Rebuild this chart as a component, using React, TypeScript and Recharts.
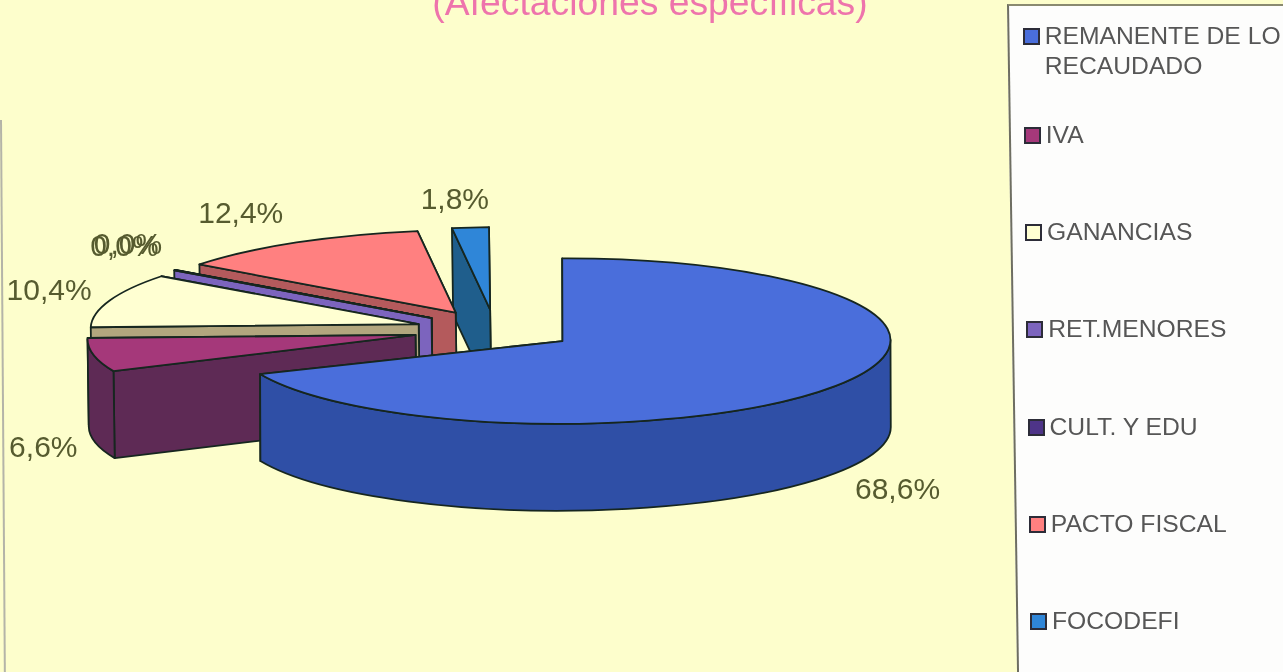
import React from "react";
import { PieChart, Pie, Legend } from "recharts";

const categories = ["REMANENTE DE LO RECAUDADO", "IVA", "GANANCIAS", "RET.MENORES", "CULT. Y EDU", "PACTO FISCAL", "FOCODEFI"];
const shares = [68.6, 6.6, 10.4, 0.04, 0.04, 12.4, 1.8];
const topColors = ["#4A6EDB", "#A5387A", "#FFFFD2", "#7C64BE", "#4E3488", "#FF8080", "#2F86D8"];
const sideColors = ["#2F4FA6", "#5E2A55", "#B2A67E", "#7C64BE", "#33255F", "#B45A5C", "#1F5E8C"];

// Draw order runs from the back of the pie to the front, so the table is reversed and swept the other way.
const pieData = categories
  .map((name, i) => ({ name, value: shares[i], top: topColors[i], side: sideColors[i] }))
  .reverse();

const W = 1283;
const H = 672;
const CX = 495;
const CY = 330;
const SQUASH = 0.252;
const DEPTH = 87;
const EXPLODE = 81;
const TILT = -0.8;
const LARGE_SLICE_TILT = -0.2;
const OUTLINE = "#16261f";
const LABEL_OFFSET: Record<string, [number, number]> = {
  "REMANENTE DE LO RECAUDADO": [62, 112],
  IVA: [-50, 108],
  GANANCIAS: [-61, 5],
  "RET.MENORES": [-51, -10],
  "CULT. Y EDU": [-48, -11],
  "PACTO FISCAL": [-57, -17],
  FOCODEFI: [-17, -18],
};

const rad = (a: number) => (a * Math.PI) / 180;

function geometry(p: any) {
  const rx = p.outerRadius;
  const ry = rx * SQUASH;
  const mid = (p.startAngle + p.endAngle) / 2;
  const ax = p.cx + EXPLODE * Math.cos(rad(mid));
  const ay = p.cy - EXPLODE * SQUASH * Math.sin(rad(mid));
  const at = (a: number, d = 0): [number, number] => [ax + rx * Math.cos(rad(a)), ay - ry * Math.sin(rad(a)) + d];
  return { rx, ry, mid, ax, ay, at };
}

function Slice3D(props: any) {
  const { startAngle: s, endAngle: e, payload } = props;
  const top = payload?.top ?? props.top;
  const side = payload?.side ?? props.side;
  const { rx, ry, ax, ay, at } = geometry(props);
  const cutPath = (a: number) => {
    const [x, y] = at(a);
    return `M${ax},${ay} L${x},${y} L${x},${y + DEPTH} L${ax},${ay + DEPTH} Z`;
  };
  const cuts = [s, e].sort((a, b) => Math.sin(rad(b)) - Math.sin(rad(a)));
  const walls: string[] = [];
  [[180, 360], [540, 720]].forEach(([lo, hi]) => {
    const a = Math.max(lo, s);
    const b = Math.min(hi, e);
    if (b > a) {
      const [x1, y1] = at(a);
      const [x2, y2] = at(b);
      const large = b - a > 180 ? 1 : 0;
      walls.push(
        `M${x1},${y1} A${rx},${ry} 0 ${large} 0 ${x2},${y2} L${x2},${y2 + DEPTH} A${rx},${ry} 0 ${large} 1 ${x1},${y1 + DEPTH} Z`
      );
    }
  });
  const [sx, sy] = at(s);
  const [ex, ey] = at(e);
  const topPath = `M${ax},${ay} L${sx},${sy} A${rx},${ry} 0 ${e - s > 180 ? 1 : 0} 0 ${ex},${ey} Z`;
  const line = { stroke: OUTLINE, strokeWidth: 1.8, strokeLinejoin: "round" as const };
  const tilt = e - s > 180 ? LARGE_SLICE_TILT : TILT;
  return (
    <g transform={`rotate(${tilt} ${props.cx} ${props.cy})`}>
      {cuts.map((c, i) => (
        <path key={i} d={cutPath(c)} fill={side} {...line} />
      ))}
      {walls.map((d, i) => (
        <path key={i} d={d} fill={side} {...line} />
      ))}
      <path d={topPath} fill={top} {...line} />
    </g>
  );
}

function SliceLabel(props: any) {
  const { at, mid } = geometry(props);
  const [x, y] = at(mid);
  const name = props.name ?? props.payload?.name;
  const [dx, dy] = LABEL_OFFSET[name] ?? [0, 0];
  const text = `${Number(props.value).toFixed(1).replace(".", ",")}%`;
  return (
    <text
      x={x + dx}
      y={y + dy}
      textAnchor="middle"
      fontFamily="Liberation Sans, Arial, sans-serif"
      fontSize={30}
      fill="#565B2F"
    >
      {text}
    </text>
  );
}

const legendRowCentres = [51, 135, 232, 329, 427, 524, 621];

function LegendBox() {
  return (
    <div
      style={{
        position: "absolute",
        left: 0,
        top: 0,
        width: W,
        height: H,
        overflow: "hidden",
        pointerEvents: "none",
        fontFamily: "Liberation Sans, Arial, sans-serif",
      }}
    >
      <div
        style={{
          position: "absolute",
          left: 1007,
          top: 4,
          width: 320,
          height: 720,
          background: "#FDFDFC",
          borderLeft: "2px solid #6E6E62",
          borderTop: "2px solid #8A8A70",
          transformOrigin: "0 0",
          transform: "skewX(0.86deg)",
        }}
      />
      {categories.map((name, i) => {
        const y = legendRowCentres[i];
        const left = 1022 + (y * 8) / 621;
        const swatchY = i === 0 ? 36 : y;
        return (
          <div key={name}>
            <div
              style={{
                position: "absolute",
                left,
                top: swatchY - 8,
                width: 13,
                height: 13,
                background: topColors[i],
                border: "2px solid #2c2c38",
              }}
            />
            <div
              style={{
                position: "absolute",
                left: left + 22,
                top: y - (i === 0 ? 30 : 15),
                width: 238,
                fontSize: 24.7,
                lineHeight: "30px",
                color: "#565656",
                whiteSpace: "normal",
              }}
            >
              {name}
            </div>
          </div>
        );
      })}
    </div>
  );
}

export default function App() {
  return (
    <div
      style={{
        position: "absolute",
        left: 0,
        top: 0,
        width: W,
        height: H,
        overflow: "hidden",
        background: "#FDFECC",
        filter: "blur(0.5px)",
      }}
    >
      <PieChart width={W} height={H} margin={{ top: 0, right: 0, bottom: 0, left: 0 }}>
        <Pie
          data={pieData}
          dataKey="value"
          nameKey="name"
          cx={CX}
          cy={CY}
          innerRadius={0}
          outerRadius={328}
          startAngle={90}
          endAngle={450}
          paddingAngle={0}
          stroke="none"
          isAnimationActive={false}
          shape={Slice3D}
          label={SliceLabel}
          labelLine={false}
        />
        <Legend content={LegendBox} wrapperStyle={{ position: "absolute", left: 0, top: 0, width: W, height: H, margin: 0 }} />
      </PieChart>
      <div
        style={{
          position: "absolute",
          left: 0,
          width: W + 17,
          top: -20,
          textAlign: "center",
          fontFamily: "Liberation Sans, Arial, sans-serif",
          fontSize: 37.3,
          lineHeight: "44px",
          color: "#EE74AC",
        }}
      >
        (Afectaciones específicas)
      </div>
      <div
        style={{
          position: "absolute",
          left: 0,
          top: 120,
          width: 1.5,
          height: 552,
          background: "#B4B4A8",
          transformOrigin: "0 0",
          transform: "skewX(0.4deg)",
        }}
      />
    </div>
  );
}
